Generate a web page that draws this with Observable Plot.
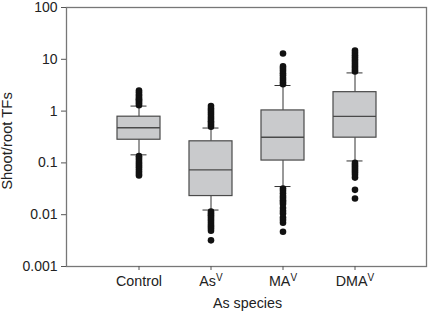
<!DOCTYPE html>
<html>
<head>
<meta charset="utf-8">
<script src="https://cdn.jsdelivr.net/npm/d3@7"></script>
<script src="https://cdn.jsdelivr.net/npm/@observablehq/plot@0.6"></script>
<style>
  html, body { margin: 0; padding: 0; background: #fff; }
  svg { font-family: "Liberation Sans", Arial, sans-serif; }
</style>
</head>
<body>
<div id="chart"></div>
<script>
// Categories and tick labels
const categories = ["Control", "AsV", "MAV", "DMAV"];
const labelBase = ["Control", "As", "MA", "DMA"];
const labelSup = ["", "V", "V", "V"];
const yTicks = [0.001, 0.01, 0.1, 1, 10, 100];
const yTickLabels = ["0.001", "0.01", "0.1", "1", "10", "100"];

// Box statistics
const q1 = [0.28, 0.0229, 0.111, 0.307];
const median = [0.477, 0.0733, 0.312, 0.791];
const q3 = [0.78, 0.261, 1.03, 2.32];
const whiskerLow = [0.143, 0.0123, 0.035, 0.109];
const whiskerHigh = [1.25, 0.471, 3.12, 5.46];

// Outliers
const outControl = [1.3, 1.4, 1.5, 1.6, 1.7, 1.8, 1.95, 2.1, 2.3, 2.5,
  0.135, 0.125, 0.115, 0.105, 0.097, 0.089, 0.082, 0.075, 0.068, 0.062, 0.057];
const outAsV = [0.5, 0.54, 0.59, 0.64, 0.7, 0.77, 0.85, 0.93, 1.02, 1.12, 1.25,
  0.0115, 0.0106, 0.0098, 0.009, 0.0083, 0.0076, 0.007, 0.0064, 0.0059, 0.0054, 0.0049, 0.0032];
const outMAV = [3.3, 3.6, 4.0, 4.4, 4.9, 5.4, 6.0, 6.6, 7.3, 12.9,
  0.032, 0.029, 0.026, 0.023, 0.021, 0.019, 0.0175, 0.0161, 0.0135, 0.0118, 0.0105, 0.0088, 0.0079, 0.007, 0.0047];
const outDMAV = [5.8, 6.3, 6.9, 7.5, 8.2, 9.0, 9.9, 10.9, 12.0, 13.2, 14.7,
  0.1, 0.092, 0.085, 0.078, 0.071, 0.065, 0.059, 0.052, 0.0302, 0.0206];

const boxes = categories.map((c, i) => ({
  cat: c, q1: q1[i], median: median[i], q3: q3[i], lo: whiskerLow[i], hi: whiskerHigh[i]
}));
const outliers = [
  ...outControl.map(v => ({cat: categories[0], v})),
  ...outAsV.map(v => ({cat: categories[1], v})),
  ...outMAV.map(v => ({cat: categories[2], v})),
  ...outDMAV.map(v => ({cat: categories[3], v}))
];

const capInset = 13.5;
const plot = Plot.plot({
  width: 428,
  height: 311,
  marginLeft: 66,
  marginRight: 2,
  marginTop: 7,
  marginBottom: 45,
  style: {fontFamily: '"Liberation Sans", Arial, sans-serif', fontSize: "14px", color: "#222", background: "#fff"},
  x: {type: "band", domain: categories, paddingInner: 0.403, paddingOuter: 0.7015, label: null},
  y: {type: "log", domain: [0.001, 100], label: null},
  marks: [
    Plot.ruleX(boxes, {x: "cat", y1: "q3", y2: "hi", stroke: "#333", strokeWidth: 1}),
    Plot.ruleX(boxes, {x: "cat", y1: "lo", y2: "q1", stroke: "#333", strokeWidth: 1}),
    Plot.tickY(boxes, {x: "cat", y: "hi", stroke: "#333", strokeWidth: 1, insetLeft: capInset, insetRight: capInset}),
    Plot.tickY(boxes, {x: "cat", y: "lo", stroke: "#333", strokeWidth: 1, insetLeft: capInset, insetRight: capInset}),
    Plot.dot(outliers, {x: "cat", y: "v", r: 3.3, fill: "#111", stroke: "none"}),
    Plot.barY(boxes, {x: "cat", y1: "q1", y2: "q3", fill: "#c9cacc", stroke: "#4a4a4a", strokeWidth: 1.2}),
    Plot.tickY(boxes, {x: "cat", y: "median", stroke: "#4a4a4a", strokeWidth: 1.4}),
    Plot.frame({stroke: "#777", strokeWidth: 1.3}),
    Plot.axisY({ticks: yTicks, tickFormat: (d) => yTickLabels[yTicks.indexOf(d)], tickSize: 5, tickPadding: 4, stroke: "#555", fontSize: 14, label: null}),
    Plot.axisX({tickSize: 4, tickPadding: 5, stroke: "#555", fontSize: 14.3, label: null}),
    Plot.text(["Shoot/root TFs"], {frameAnchor: "left", dx: -55, dy: 4, rotate: -90, textAnchor: "middle", lineAnchor: "bottom", fontSize: 14.8, fill: "#222"}),
    Plot.text(["As species"], {frameAnchor: "bottom", dy: 41, dx: 1, textAnchor: "middle", lineAnchor: "bottom", fontSize: 14.3, fill: "#222"})
  ]
});
document.getElementById("chart").appendChild(plot);

// superscripts on x tick labels
const ns = "http://www.w3.org/2000/svg";
plot.querySelectorAll('g[aria-label="x-axis tick label"] text').forEach((t, i) => {
  const idx = categories.indexOf(t.textContent);
  const k = idx >= 0 ? idx : i;
  t.textContent = "";
  t.appendChild(document.createTextNode(labelBase[k]));
  if (labelSup[k]) {
    const ts = document.createElementNS(ns, "tspan");
    ts.setAttribute("font-size", "10");
    ts.setAttribute("dy", "-5");
    ts.textContent = labelSup[k];
    t.appendChild(ts);
  }
});
</script>
</body>
</html>
